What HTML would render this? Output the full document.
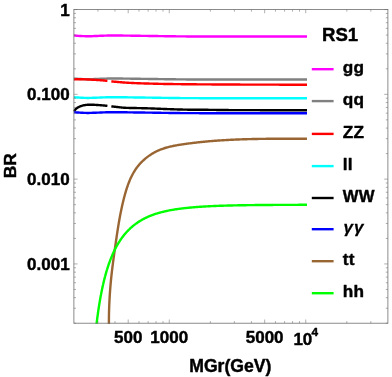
<!DOCTYPE html><html><head><meta charset="utf-8"><style>html,body{margin:0;padding:0;background:#fff}body{width:392px;height:377px;overflow:hidden}svg{display:block;will-change:transform}text{font-family:"Liberation Sans",sans-serif;font-weight:bold;fill:#000;stroke:#000;stroke-width:0.45px;stroke-linejoin:round}</style></head><body>
<svg width="392" height="377" viewBox="0 0 392 377">
<clipPath id="c"><rect x="73.30000000000001" y="8.950000000000001" width="315.2" height="315.04999999999995"/></clipPath>
<g clip-path="url(#c)" fill="none" stroke-linejoin="round" stroke-linecap="butt">
<path d="M73.90,78.55 L75.37,78.66 L76.83,78.76 L78.30,78.86 L79.76,78.94 L81.23,79.01 L82.70,79.09 L84.16,79.16 L85.63,79.21 L87.09,79.24 L88.56,79.25 L90.03,79.22 L91.49,79.18 L92.96,79.12 L94.42,79.06 L95.89,79.00 L97.36,78.95 L98.82,78.88 L100.29,78.81 L101.75,78.74 L103.22,78.68 L104.69,78.63 L106.15,78.58 L107.62,78.53 L109.08,78.51 L110.55,78.50 L112.02,78.50 L113.48,78.50 L114.95,78.50 L116.42,78.50 L117.88,78.50 L119.35,78.51 L120.81,78.53 L122.28,78.55 L123.75,78.58 L125.21,78.60 L126.68,78.62 L128.14,78.65 L129.61,78.67 L131.08,78.69 L132.54,78.71 L134.01,78.74 L135.47,78.76 L136.94,78.78 L138.41,78.80 L139.87,78.82 L141.34,78.84 L142.80,78.85 L144.27,78.87 L145.74,78.89 L147.20,78.91 L148.67,78.93 L150.13,78.95 L151.60,78.97 L153.07,79.00 L154.53,79.02 L156.00,79.04 L157.46,79.06 L158.93,79.09 L160.40,79.11 L161.86,79.13 L163.33,79.16 L164.79,79.18 L166.26,79.20 L167.73,79.22 L169.19,79.24 L170.66,79.26 L172.12,79.28 L173.59,79.29 L175.06,79.31 L176.52,79.33 L177.99,79.35 L179.45,79.37 L180.92,79.38 L182.39,79.40 L183.85,79.41 L185.32,79.42 L186.78,79.43 L188.25,79.44 L189.72,79.45 L191.18,79.45 L192.65,79.46 L194.12,79.46 L195.58,79.47 L197.05,79.47 L198.51,79.47 L199.98,79.48 L201.45,79.48 L202.91,79.48 L204.38,79.49 L205.84,79.49 L207.31,79.49 L208.78,79.49 L210.24,79.49 L211.71,79.50 L213.17,79.50 L214.64,79.50 L216.11,79.50 L217.57,79.50 L219.04,79.50 L220.50,79.50 L221.97,79.50 L223.44,79.50 L224.90,79.50 L226.37,79.50 L227.83,79.50 L229.30,79.50 L230.77,79.50 L232.23,79.50 L233.70,79.50 L235.16,79.50 L236.63,79.50 L238.10,79.50 L239.56,79.50 L241.03,79.50 L242.49,79.50 L243.96,79.50 L245.43,79.50 L246.89,79.50 L248.36,79.50 L249.82,79.50 L251.29,79.50 L252.76,79.50 L254.22,79.50 L255.69,79.50 L257.15,79.50 L258.62,79.50 L260.09,79.50 L261.55,79.50 L263.02,79.50 L264.48,79.50 L265.95,79.50 L267.42,79.50 L268.88,79.50 L270.35,79.50 L271.82,79.50 L273.28,79.50 L274.75,79.50 L276.21,79.50 L277.68,79.50 L279.15,79.50 L280.61,79.50 L282.08,79.50 L283.54,79.50 L285.01,79.50 L286.48,79.50 L287.94,79.50 L289.41,79.50 L290.87,79.50 L292.34,79.50 L293.81,79.50 L295.27,79.50 L296.74,79.50 L298.20,79.50 L299.67,79.50 L301.14,79.50 L302.60,79.50 L304.07,79.50 L305.53,79.50 L307.00,79.50" stroke="#808080" stroke-width="2.4"/>
<path d="M73.90,35.55 L75.37,35.66 L76.83,35.76 L78.30,35.86 L79.76,35.94 L81.23,36.01 L82.70,36.09 L84.16,36.16 L85.63,36.21 L87.09,36.24 L88.56,36.25 L90.03,36.22 L91.49,36.18 L92.96,36.12 L94.42,36.06 L95.89,36.00 L97.36,35.95 L98.82,35.88 L100.29,35.81 L101.75,35.74 L103.22,35.68 L104.69,35.63 L106.15,35.58 L107.62,35.53 L109.08,35.51 L110.55,35.50 L112.02,35.50 L113.48,35.50 L114.95,35.50 L116.42,35.50 L117.88,35.50 L119.35,35.51 L120.81,35.53 L122.28,35.55 L123.75,35.58 L125.21,35.60 L126.68,35.62 L128.14,35.65 L129.61,35.67 L131.08,35.69 L132.54,35.71 L134.01,35.74 L135.47,35.76 L136.94,35.78 L138.41,35.80 L139.87,35.82 L141.34,35.84 L142.80,35.85 L144.27,35.87 L145.74,35.89 L147.20,35.91 L148.67,35.93 L150.13,35.95 L151.60,35.97 L153.07,36.00 L154.53,36.02 L156.00,36.04 L157.46,36.06 L158.93,36.09 L160.40,36.11 L161.86,36.13 L163.33,36.16 L164.79,36.18 L166.26,36.20 L167.73,36.22 L169.19,36.24 L170.66,36.26 L172.12,36.28 L173.59,36.29 L175.06,36.31 L176.52,36.33 L177.99,36.35 L179.45,36.37 L180.92,36.38 L182.39,36.40 L183.85,36.41 L185.32,36.42 L186.78,36.43 L188.25,36.44 L189.72,36.45 L191.18,36.45 L192.65,36.46 L194.12,36.46 L195.58,36.47 L197.05,36.47 L198.51,36.47 L199.98,36.48 L201.45,36.48 L202.91,36.48 L204.38,36.49 L205.84,36.49 L207.31,36.49 L208.78,36.49 L210.24,36.49 L211.71,36.50 L213.17,36.50 L214.64,36.50 L216.11,36.50 L217.57,36.50 L219.04,36.50 L220.50,36.50 L221.97,36.50 L223.44,36.50 L224.90,36.50 L226.37,36.50 L227.83,36.50 L229.30,36.50 L230.77,36.50 L232.23,36.50 L233.70,36.50 L235.16,36.50 L236.63,36.50 L238.10,36.50 L239.56,36.50 L241.03,36.50 L242.49,36.50 L243.96,36.50 L245.43,36.50 L246.89,36.50 L248.36,36.50 L249.82,36.50 L251.29,36.50 L252.76,36.50 L254.22,36.50 L255.69,36.50 L257.15,36.50 L258.62,36.50 L260.09,36.50 L261.55,36.50 L263.02,36.50 L264.48,36.50 L265.95,36.50 L267.42,36.50 L268.88,36.50 L270.35,36.50 L271.82,36.50 L273.28,36.50 L274.75,36.50 L276.21,36.50 L277.68,36.50 L279.15,36.50 L280.61,36.50 L282.08,36.50 L283.54,36.50 L285.01,36.50 L286.48,36.50 L287.94,36.50 L289.41,36.50 L290.87,36.50 L292.34,36.50 L293.81,36.50 L295.27,36.50 L296.74,36.50 L298.20,36.50 L299.67,36.50 L301.14,36.50 L302.60,36.50 L304.07,36.50 L305.53,36.50 L307.00,36.50" stroke="#ff00ff" stroke-width="2.4"/>
<path d="M73.90,79.45 L74.68,79.40 L75.46,79.36 L76.24,79.32 L77.02,79.30 L77.80,79.28 L78.58,79.27 L79.36,79.26 L80.14,79.25 L80.92,79.25 L81.70,79.25 L82.48,79.27 L83.26,79.29 L84.03,79.32 L84.81,79.35 L85.59,79.38 L86.37,79.41 L87.15,79.45 L87.93,79.48 L88.71,79.52 L89.49,79.56 L90.27,79.60 L91.05,79.65 L91.83,79.69 L92.61,79.73 L93.39,79.78 L94.17,79.82 L94.95,79.87 L95.73,79.92 L96.51,79.96 L97.29,80.01 L98.07,80.06 L98.85,80.12 L99.63,80.17 L100.41,80.23 L101.19,80.29 L101.97,80.35 L102.75,80.41 L103.52,80.47 L104.30,80.54 L105.08,80.61 L105.86,80.69 L106.64,80.76 L107.42,80.85" stroke="#ff0000" stroke-width="2.4"/>
<path d="M111.32,81.37 L112.10,81.46 L112.88,81.54 L113.66,81.61 L114.44,81.68 L115.22,81.75 L116.00,81.82 L116.78,81.89 L117.56,81.96 L118.34,82.03 L119.12,82.10 L119.90,82.18 L120.68,82.25 L121.46,82.32 L122.24,82.39 L123.01,82.46 L123.79,82.52 L124.57,82.57 L125.35,82.62 L126.13,82.67 L126.91,82.71 L127.69,82.76 L128.47,82.80 L129.25,82.84 L130.03,82.88 L130.81,82.92 L131.59,82.96 L132.37,82.99 L133.15,83.03 L133.93,83.06 L134.71,83.10 L135.49,83.13 L136.27,83.16 L137.05,83.19 L137.83,83.22 L138.61,83.25 L139.39,83.28 L140.17,83.31 L140.95,83.33 L141.73,83.36 L142.50,83.39 L143.28,83.41 L144.06,83.43 L144.84,83.46 L145.62,83.48 L146.40,83.50 L147.18,83.52 L147.96,83.55 L148.74,83.57 L149.52,83.59 L150.30,83.61 L151.08,83.63 L151.86,83.65 L152.64,83.67 L153.42,83.69 L154.20,83.71 L154.98,83.73 L155.76,83.75 L156.54,83.77 L157.32,83.79 L158.10,83.81 L158.88,83.83 L159.66,83.85 L160.44,83.86 L161.22,83.88 L161.99,83.90 L162.77,83.91 L163.55,83.93 L164.33,83.94 L165.11,83.95 L165.89,83.96 L166.67,83.98 L167.45,83.99 L168.23,84.00 L169.01,84.01 L169.79,84.02 L170.57,84.04 L171.35,84.05 L172.13,84.06 L172.91,84.07 L173.69,84.08 L174.47,84.09 L175.25,84.10 L176.03,84.11 L176.81,84.12 L177.59,84.13 L178.37,84.14 L179.15,84.15 L179.93,84.16 L180.71,84.17 L181.48,84.18 L182.26,84.19 L183.04,84.20 L183.82,84.21 L184.60,84.21 L185.38,84.22 L186.16,84.23 L186.94,84.24 L187.72,84.25 L188.50,84.25 L189.28,84.26 L190.06,84.27 L190.84,84.28 L191.62,84.28 L192.40,84.29 L193.18,84.30 L193.96,84.30 L194.74,84.31 L195.52,84.32 L196.30,84.32 L197.08,84.33 L197.86,84.33 L198.64,84.34 L199.42,84.35 L200.19,84.35 L200.97,84.36 L201.75,84.36 L202.53,84.37 L203.31,84.37 L204.09,84.38 L204.87,84.38 L205.65,84.39 L206.43,84.39 L207.21,84.40 L207.99,84.40 L208.77,84.41 L209.55,84.41 L210.33,84.42 L211.11,84.42 L211.89,84.43 L212.67,84.43 L213.45,84.44 L214.23,84.44 L215.01,84.45 L215.79,84.45 L216.57,84.46 L217.35,84.46 L218.13,84.47 L218.91,84.47 L219.68,84.47 L220.46,84.48 L221.24,84.48 L222.02,84.49 L222.80,84.49 L223.58,84.50 L224.36,84.50 L225.14,84.50 L225.92,84.51 L226.70,84.51 L227.48,84.52 L228.26,84.52 L229.04,84.52 L229.82,84.53 L230.60,84.53 L231.38,84.54 L232.16,84.54 L232.94,84.54 L233.72,84.55 L234.50,84.55 L235.28,84.55 L236.06,84.56 L236.84,84.56 L237.62,84.56 L238.40,84.57 L239.17,84.57 L239.95,84.57 L240.73,84.58 L241.51,84.58 L242.29,84.58 L243.07,84.59 L243.85,84.59 L244.63,84.59 L245.41,84.60 L246.19,84.60 L246.97,84.60 L247.75,84.60 L248.53,84.61 L249.31,84.61 L250.09,84.61 L250.87,84.61 L251.65,84.62 L252.43,84.62 L253.21,84.62 L253.99,84.62 L254.77,84.63 L255.55,84.63 L256.33,84.63 L257.11,84.63 L257.89,84.63 L258.66,84.64 L259.44,84.64 L260.22,84.64 L261.00,84.64 L261.78,84.64 L262.56,84.65 L263.34,84.65 L264.12,84.65 L264.90,84.65 L265.68,84.65 L266.46,84.65 L267.24,84.65 L268.02,84.66 L268.80,84.66 L269.58,84.66 L270.36,84.66 L271.14,84.66 L271.92,84.66 L272.70,84.66 L273.48,84.67 L274.26,84.67 L275.04,84.67 L275.82,84.67 L276.60,84.67 L277.38,84.67 L278.15,84.67 L278.93,84.67 L279.71,84.68 L280.49,84.68 L281.27,84.68 L282.05,84.68 L282.83,84.68 L283.61,84.68 L284.39,84.68 L285.17,84.68 L285.95,84.68 L286.73,84.69 L287.51,84.69 L288.29,84.69 L289.07,84.69 L289.85,84.69 L290.63,84.69 L291.41,84.69 L292.19,84.69 L292.97,84.69 L293.75,84.69 L294.53,84.69 L295.31,84.69 L296.09,84.70 L296.87,84.70 L297.64,84.70 L298.42,84.70 L299.20,84.70 L299.98,84.70 L300.76,84.70 L301.54,84.70 L302.32,84.70 L303.10,84.70 L303.88,84.70 L304.66,84.70 L305.44,84.70 L306.22,84.70 L307.00,84.70" stroke="#ff0000" stroke-width="2.4"/>
<path d="M73.90,97.25 L75.37,97.36 L76.83,97.46 L78.30,97.56 L79.76,97.64 L81.23,97.71 L82.70,97.79 L84.16,97.86 L85.63,97.91 L87.09,97.94 L88.56,97.95 L90.03,97.92 L91.49,97.88 L92.96,97.82 L94.42,97.76 L95.89,97.70 L97.36,97.65 L98.82,97.58 L100.29,97.51 L101.75,97.44 L103.22,97.38 L104.69,97.33 L106.15,97.28 L107.62,97.23 L109.08,97.21 L110.55,97.20 L112.02,97.20 L113.48,97.20 L114.95,97.20 L116.42,97.20 L117.88,97.20 L119.35,97.21 L120.81,97.23 L122.28,97.25 L123.75,97.28 L125.21,97.30 L126.68,97.32 L128.14,97.35 L129.61,97.37 L131.08,97.39 L132.54,97.41 L134.01,97.44 L135.47,97.46 L136.94,97.48 L138.41,97.50 L139.87,97.52 L141.34,97.54 L142.80,97.55 L144.27,97.57 L145.74,97.59 L147.20,97.61 L148.67,97.63 L150.13,97.65 L151.60,97.67 L153.07,97.70 L154.53,97.72 L156.00,97.74 L157.46,97.76 L158.93,97.79 L160.40,97.81 L161.86,97.83 L163.33,97.86 L164.79,97.88 L166.26,97.90 L167.73,97.92 L169.19,97.94 L170.66,97.96 L172.12,97.98 L173.59,97.99 L175.06,98.01 L176.52,98.03 L177.99,98.05 L179.45,98.07 L180.92,98.08 L182.39,98.10 L183.85,98.11 L185.32,98.12 L186.78,98.13 L188.25,98.14 L189.72,98.15 L191.18,98.15 L192.65,98.16 L194.12,98.16 L195.58,98.17 L197.05,98.17 L198.51,98.17 L199.98,98.18 L201.45,98.18 L202.91,98.18 L204.38,98.19 L205.84,98.19 L207.31,98.19 L208.78,98.19 L210.24,98.19 L211.71,98.20 L213.17,98.20 L214.64,98.20 L216.11,98.20 L217.57,98.20 L219.04,98.20 L220.50,98.20 L221.97,98.20 L223.44,98.20 L224.90,98.20 L226.37,98.20 L227.83,98.20 L229.30,98.20 L230.77,98.20 L232.23,98.20 L233.70,98.20 L235.16,98.20 L236.63,98.20 L238.10,98.20 L239.56,98.20 L241.03,98.20 L242.49,98.20 L243.96,98.20 L245.43,98.20 L246.89,98.20 L248.36,98.20 L249.82,98.20 L251.29,98.20 L252.76,98.20 L254.22,98.20 L255.69,98.20 L257.15,98.20 L258.62,98.20 L260.09,98.20 L261.55,98.20 L263.02,98.20 L264.48,98.20 L265.95,98.20 L267.42,98.20 L268.88,98.20 L270.35,98.20 L271.82,98.20 L273.28,98.20 L274.75,98.20 L276.21,98.20 L277.68,98.20 L279.15,98.20 L280.61,98.20 L282.08,98.20 L283.54,98.20 L285.01,98.20 L286.48,98.20 L287.94,98.20 L289.41,98.20 L290.87,98.20 L292.34,98.20 L293.81,98.20 L295.27,98.20 L296.74,98.20 L298.20,98.20 L299.67,98.20 L301.14,98.20 L302.60,98.20 L304.07,98.20 L305.53,98.20 L307.00,98.20" stroke="#00ffff" stroke-width="2.4"/>
<path d="M73.90,111.60 L74.68,110.32 L75.46,109.40 L76.24,108.69 L77.02,108.06 L77.80,107.52 L78.58,107.09 L79.36,106.73 L80.14,106.39 L80.92,106.07 L81.70,105.79 L82.48,105.57 L83.26,105.37 L84.03,105.20 L84.81,105.07 L85.59,104.98 L86.37,104.90 L87.15,104.82 L87.93,104.76 L88.71,104.72 L89.49,104.70 L90.27,104.70 L91.05,104.72 L91.83,104.73 L92.61,104.76 L93.39,104.79 L94.17,104.82 L94.95,104.85 L95.73,104.88 L96.51,104.93 L97.29,104.99 L98.07,105.05 L98.85,105.11 L99.63,105.17 L100.41,105.23 L101.19,105.29 L101.97,105.35 L102.75,105.41 L103.52,105.48 L104.30,105.54 L105.08,105.61 L105.86,105.69 L106.64,105.76 L107.42,105.85" stroke="#000000" stroke-width="2.4"/>
<path d="M111.32,106.38 L112.10,106.47 L112.88,106.56 L113.66,106.65 L114.44,106.73 L115.22,106.81 L116.00,106.89 L116.78,106.97 L117.56,107.05 L118.34,107.14 L119.12,107.22 L119.90,107.32 L120.68,107.41 L121.46,107.50 L122.24,107.59 L123.01,107.66 L123.79,107.73 L124.57,107.78 L125.35,107.81 L126.13,107.84 L126.91,107.87 L127.69,107.89 L128.47,107.92 L129.25,107.94 L130.03,107.96 L130.81,107.97 L131.59,107.99 L132.37,108.00 L133.15,108.02 L133.93,108.03 L134.71,108.05 L135.49,108.06 L136.27,108.07 L137.05,108.09 L137.83,108.10 L138.61,108.12 L139.39,108.14 L140.17,108.15 L140.95,108.17 L141.73,108.19 L142.50,108.21 L143.28,108.23 L144.06,108.25 L144.84,108.26 L145.62,108.28 L146.40,108.30 L147.18,108.32 L147.96,108.34 L148.74,108.36 L149.52,108.39 L150.30,108.41 L151.08,108.43 L151.86,108.46 L152.64,108.49 L153.42,108.52 L154.20,108.55 L154.98,108.58 L155.76,108.62 L156.54,108.65 L157.32,108.69 L158.10,108.72 L158.88,108.75 L159.66,108.79 L160.44,108.82 L161.22,108.86 L161.99,108.89 L162.77,108.92 L163.55,108.95 L164.33,108.98 L165.11,109.00 L165.89,109.03 L166.67,109.06 L167.45,109.08 L168.23,109.11 L169.01,109.14 L169.79,109.17 L170.57,109.19 L171.35,109.22 L172.13,109.25 L172.91,109.28 L173.69,109.30 L174.47,109.33 L175.25,109.36 L176.03,109.38 L176.81,109.41 L177.59,109.43 L178.37,109.46 L179.15,109.48 L179.93,109.50 L180.71,109.53 L181.48,109.55 L182.26,109.57 L183.04,109.59 L183.82,109.60 L184.60,109.62 L185.38,109.64 L186.16,109.65 L186.94,109.66 L187.72,109.68 L188.50,109.69 L189.28,109.69 L190.06,109.70 L190.84,109.71 L191.62,109.71 L192.40,109.72 L193.18,109.72 L193.96,109.72 L194.74,109.73 L195.52,109.73 L196.30,109.73 L197.08,109.74 L197.86,109.74 L198.64,109.74 L199.42,109.75 L200.19,109.75 L200.97,109.76 L201.75,109.76 L202.53,109.77 L203.31,109.77 L204.09,109.78 L204.87,109.79 L205.65,109.80 L206.43,109.80 L207.21,109.81 L207.99,109.82 L208.77,109.83 L209.55,109.84 L210.33,109.85 L211.11,109.86 L211.89,109.87 L212.67,109.88 L213.45,109.89 L214.23,109.90 L215.01,109.91 L215.79,109.92 L216.57,109.93 L217.35,109.94 L218.13,109.95 L218.91,109.96 L219.68,109.97 L220.46,109.98 L221.24,109.99 L222.02,110.00 L222.80,110.01 L223.58,110.02 L224.36,110.03 L225.14,110.04 L225.92,110.05 L226.70,110.06 L227.48,110.06 L228.26,110.07 L229.04,110.08 L229.82,110.09 L230.60,110.10 L231.38,110.10 L232.16,110.11 L232.94,110.12 L233.72,110.12 L234.50,110.13 L235.28,110.13 L236.06,110.14 L236.84,110.14 L237.62,110.14 L238.40,110.15 L239.17,110.15 L239.95,110.15 L240.73,110.15 L241.51,110.15 L242.29,110.15 L243.07,110.15 L243.85,110.16 L244.63,110.16 L245.41,110.16 L246.19,110.16 L246.97,110.16 L247.75,110.16 L248.53,110.16 L249.31,110.16 L250.09,110.16 L250.87,110.16 L251.65,110.17 L252.43,110.17 L253.21,110.17 L253.99,110.17 L254.77,110.17 L255.55,110.17 L256.33,110.17 L257.11,110.17 L257.89,110.17 L258.66,110.17 L259.44,110.17 L260.22,110.18 L261.00,110.18 L261.78,110.18 L262.56,110.18 L263.34,110.18 L264.12,110.18 L264.90,110.18 L265.68,110.18 L266.46,110.18 L267.24,110.18 L268.02,110.18 L268.80,110.18 L269.58,110.18 L270.36,110.19 L271.14,110.19 L271.92,110.19 L272.70,110.19 L273.48,110.19 L274.26,110.19 L275.04,110.19 L275.82,110.19 L276.60,110.19 L277.38,110.19 L278.15,110.19 L278.93,110.19 L279.71,110.19 L280.49,110.19 L281.27,110.19 L282.05,110.19 L282.83,110.19 L283.61,110.19 L284.39,110.19 L285.17,110.19 L285.95,110.20 L286.73,110.20 L287.51,110.20 L288.29,110.20 L289.07,110.20 L289.85,110.20 L290.63,110.20 L291.41,110.20 L292.19,110.20 L292.97,110.20 L293.75,110.20 L294.53,110.20 L295.31,110.20 L296.09,110.20 L296.87,110.20 L297.64,110.20 L298.42,110.20 L299.20,110.20 L299.98,110.20 L300.76,110.20 L301.54,110.20 L302.32,110.20 L303.10,110.20 L303.88,110.20 L304.66,110.20 L305.44,110.20 L306.22,110.20 L307.00,110.20" stroke="#000000" stroke-width="2.4"/>
<path d="M73.90,112.25 L75.37,112.36 L76.83,112.46 L78.30,112.56 L79.76,112.64 L81.23,112.71 L82.70,112.79 L84.16,112.86 L85.63,112.91 L87.09,112.94 L88.56,112.95 L90.03,112.92 L91.49,112.88 L92.96,112.82 L94.42,112.76 L95.89,112.70 L97.36,112.65 L98.82,112.58 L100.29,112.51 L101.75,112.44 L103.22,112.38 L104.69,112.33 L106.15,112.28 L107.62,112.23 L109.08,112.21 L110.55,112.20 L112.02,112.20 L113.48,112.20 L114.95,112.20 L116.42,112.20 L117.88,112.20 L119.35,112.21 L120.81,112.23 L122.28,112.25 L123.75,112.28 L125.21,112.30 L126.68,112.32 L128.14,112.35 L129.61,112.37 L131.08,112.39 L132.54,112.41 L134.01,112.44 L135.47,112.46 L136.94,112.48 L138.41,112.50 L139.87,112.52 L141.34,112.54 L142.80,112.55 L144.27,112.57 L145.74,112.59 L147.20,112.61 L148.67,112.63 L150.13,112.65 L151.60,112.67 L153.07,112.70 L154.53,112.72 L156.00,112.74 L157.46,112.76 L158.93,112.79 L160.40,112.81 L161.86,112.83 L163.33,112.86 L164.79,112.88 L166.26,112.90 L167.73,112.92 L169.19,112.94 L170.66,112.96 L172.12,112.98 L173.59,112.99 L175.06,113.01 L176.52,113.03 L177.99,113.05 L179.45,113.07 L180.92,113.08 L182.39,113.10 L183.85,113.11 L185.32,113.12 L186.78,113.13 L188.25,113.14 L189.72,113.15 L191.18,113.15 L192.65,113.16 L194.12,113.16 L195.58,113.17 L197.05,113.17 L198.51,113.17 L199.98,113.18 L201.45,113.18 L202.91,113.18 L204.38,113.19 L205.84,113.19 L207.31,113.19 L208.78,113.19 L210.24,113.19 L211.71,113.20 L213.17,113.20 L214.64,113.20 L216.11,113.20 L217.57,113.20 L219.04,113.20 L220.50,113.20 L221.97,113.20 L223.44,113.20 L224.90,113.20 L226.37,113.20 L227.83,113.20 L229.30,113.20 L230.77,113.20 L232.23,113.20 L233.70,113.20 L235.16,113.20 L236.63,113.20 L238.10,113.20 L239.56,113.20 L241.03,113.20 L242.49,113.20 L243.96,113.20 L245.43,113.20 L246.89,113.20 L248.36,113.20 L249.82,113.20 L251.29,113.20 L252.76,113.20 L254.22,113.20 L255.69,113.20 L257.15,113.20 L258.62,113.20 L260.09,113.20 L261.55,113.20 L263.02,113.20 L264.48,113.20 L265.95,113.20 L267.42,113.20 L268.88,113.20 L270.35,113.20 L271.82,113.20 L273.28,113.20 L274.75,113.20 L276.21,113.20 L277.68,113.20 L279.15,113.20 L280.61,113.20 L282.08,113.20 L283.54,113.20 L285.01,113.20 L286.48,113.20 L287.94,113.20 L289.41,113.20 L290.87,113.20 L292.34,113.20 L293.81,113.20 L295.27,113.20 L296.74,113.20 L298.20,113.20 L299.67,113.20 L301.14,113.20 L302.60,113.20 L304.07,113.20 L305.53,113.20 L307.00,113.20" stroke="#0000ff" stroke-width="2.4"/>
<path d="M108.90,324.48 L108.90,323.64 L108.90,322.80 L108.90,321.95 L108.90,321.11 L108.90,320.27 L108.91,319.42 L108.92,318.58 L108.93,317.73 L108.94,316.89 L108.95,316.04 L108.96,315.20 L108.98,314.35 L109.00,313.51 L109.01,312.66 L109.03,311.81 L109.06,310.97 L109.08,310.12 L109.11,309.27 L109.13,308.43 L109.16,307.58 L109.19,306.73 L109.22,305.89 L109.26,305.04 L109.29,304.19 L109.33,303.34 L109.37,302.50 L109.41,301.65 L109.45,300.80 L109.50,299.95 L109.54,299.11 L109.59,298.26 L109.64,297.41 L109.69,296.56 L109.74,295.71 L109.79,294.87 L109.85,294.02 L109.90,293.17 L109.96,292.32 L110.02,291.47 L110.08,290.63 L110.15,289.78 L110.21,288.93 L110.28,288.08 L110.35,287.23 L110.42,286.39 L110.49,285.54 L110.56,284.69 L110.64,283.84 L110.71,282.99 L110.79,282.15 L110.87,281.30 L110.95,280.45 L111.03,279.60 L111.12,278.76 L111.20,277.91 L111.29,277.06 L111.38,276.22 L111.47,275.37 L111.56,274.52 L111.66,273.68 L111.75,272.83 L111.85,271.99 L111.95,271.14 L112.05,270.29 L112.15,269.45 L112.25,268.60 L112.35,267.76 L112.46,266.91 L112.56,266.07 L112.67,265.23 L112.78,264.38 L112.88,263.54 L112.99,262.69 L113.10,261.85 L113.22,261.01 L113.33,260.17 L113.44,259.32 L113.55,258.48 L113.67,257.64 L113.78,256.80 L113.90,255.96 L114.01,255.12 L114.13,254.27 L114.25,253.43 L114.36,252.59 L114.48,251.76 L114.60,250.92 L114.72,250.08 L114.84,249.24 L114.96,248.40 L115.08,247.56 L115.20,246.73 L115.32,245.89 L115.43,245.05 L115.55,244.22 L115.67,243.38 L115.79,242.55 L115.91,241.71 L116.03,240.88 L116.16,240.04 L116.28,239.21 L116.40,238.38 L116.52,237.54 L116.64,236.71 L116.76,235.88 L116.89,235.05 L117.01,234.21 L117.14,233.38 L117.26,232.55 L117.39,231.72 L117.52,230.89 L117.65,230.06 L117.78,229.23 L117.91,228.40 L118.04,227.57 L118.17,226.74 L118.31,225.91 L118.45,225.08 L118.58,224.25 L118.72,223.42 L118.86,222.59 L119.01,221.76 L119.15,220.93 L119.29,220.10 L119.44,219.27 L119.59,218.44 L119.74,217.61 L119.90,216.78 L120.05,215.95 L120.21,215.12 L120.37,214.29 L120.53,213.46 L120.69,212.63 L120.86,211.80 L121.03,210.97 L121.20,210.14 L121.37,209.31 L121.55,208.47 L121.73,207.64 L121.91,206.81 L122.10,205.98 L122.28,205.15 L122.47,204.32 L122.67,203.48 L122.86,202.65 L123.06,201.82 L123.26,200.98 L123.47,200.15 L123.68,199.31 L123.89,198.48 L124.10,197.64 L124.32,196.81 L124.55,195.97 L124.77,195.14 L125.00,194.30 L125.24,193.47 L125.47,192.63 L125.72,191.80 L125.97,190.97 L126.22,190.14 L126.48,189.31 L126.74,188.48 L127.01,187.66 L127.29,186.84 L127.57,186.02 L127.86,185.20 L128.15,184.39 L128.45,183.58 L128.76,182.77 L129.07,181.97 L129.40,181.17 L129.73,180.38 L130.07,179.59 L130.41,178.81 L130.76,178.03 L131.13,177.26 L131.50,176.49 L131.88,175.73 L132.27,174.97 L132.66,174.22 L133.07,173.48 L133.49,172.75 L133.91,172.02 L134.35,171.30 L134.80,170.58 L135.25,169.88 L135.72,169.18 L136.20,168.49 L136.69,167.81 L137.19,167.14 L137.70,166.47 L138.22,165.82 L138.76,165.17 L139.30,164.54 L139.85,163.91 L140.42,163.29 L140.99,162.68 L141.57,162.08 L142.16,161.49 L142.76,160.91 L143.37,160.34 L143.99,159.78 L144.62,159.23 L145.26,158.69 L145.90,158.15 L146.55,157.63 L147.21,157.12 L147.88,156.62 L148.56,156.12 L149.24,155.64 L149.93,155.17 L150.63,154.71 L151.34,154.26 L152.05,153.82 L152.77,153.39 L153.49,152.97 L154.22,152.56 L154.96,152.16 L155.70,151.78 L156.45,151.40 L157.21,151.03 L157.97,150.68 L158.74,150.34 L159.51,150.01 L160.28,149.69 L161.06,149.38 L161.85,149.08 L162.64,148.80 L163.43,148.53 L164.23,148.26 L165.03,148.01 L165.83,147.77 L166.64,147.53 L167.45,147.31 L168.27,147.09 L169.09,146.89 L169.91,146.69 L170.73,146.50 L171.56,146.31 L172.39,146.13 L173.22,145.96 L174.05,145.80 L174.88,145.64 L175.72,145.48 L176.56,145.33 L177.40,145.19 L178.24,145.05 L179.08,144.91 L179.92,144.77 L180.76,144.64 L181.60,144.51 L182.45,144.39 L183.29,144.26 L184.13,144.14 L184.98,144.02 L185.82,143.90 L186.66,143.78 L187.51,143.66 L188.35,143.55 L189.20,143.43 L190.04,143.32 L190.88,143.21 L191.73,143.11 L192.57,143.00 L193.42,142.90 L194.26,142.80 L195.11,142.69 L195.96,142.60 L196.80,142.50 L197.65,142.40 L198.49,142.31 L199.34,142.22 L200.18,142.13 L201.03,142.04 L201.88,141.95 L202.72,141.86 L203.57,141.78 L204.42,141.70 L205.26,141.61 L206.11,141.53 L206.96,141.46 L207.81,141.38 L208.65,141.30 L209.50,141.23 L210.35,141.16 L211.20,141.08 L212.04,141.01 L212.89,140.95 L213.74,140.88 L214.59,140.81 L215.43,140.75 L216.28,140.69 L217.13,140.62 L217.98,140.56 L218.83,140.50 L219.68,140.45 L220.52,140.39 L221.37,140.33 L222.22,140.28 L223.07,140.23 L223.92,140.18 L224.77,140.13 L225.62,140.08 L226.47,140.03 L227.31,139.98 L228.16,139.93 L229.01,139.89 L229.86,139.85 L230.71,139.80 L231.56,139.76 L232.41,139.72 L233.26,139.68 L234.11,139.64 L234.96,139.61 L235.81,139.57 L236.66,139.54 L237.51,139.50 L238.35,139.47 L239.20,139.44 L240.05,139.40 L240.90,139.37 L241.75,139.34 L242.60,139.32 L243.45,139.29 L244.30,139.26 L245.15,139.23 L246.00,139.21 L246.85,139.19 L247.70,139.16 L248.55,139.14 L249.40,139.12 L250.25,139.10 L251.10,139.08 L251.94,139.06 L252.79,139.04 L253.64,139.02 L254.49,139.00 L255.34,138.98 L256.19,138.97 L257.04,138.95 L257.89,138.94 L258.74,138.92 L259.59,138.91 L260.43,138.90 L261.28,138.88 L262.13,138.87 L262.98,138.86 L263.83,138.85 L264.68,138.84 L265.53,138.83 L266.37,138.82 L267.22,138.81 L268.07,138.80 L268.92,138.80 L269.77,138.79 L270.62,138.78 L271.46,138.78 L272.31,138.77 L273.16,138.77 L274.01,138.76 L274.85,138.76 L275.70,138.75 L276.55,138.75 L277.40,138.74 L278.24,138.74 L279.09,138.74 L279.94,138.73 L280.78,138.73 L281.63,138.73 L282.48,138.73 L283.32,138.73 L284.17,138.72 L285.01,138.72 L285.86,138.72 L286.71,138.72 L287.55,138.72 L288.40,138.72 L289.24,138.72 L290.09,138.72 L290.93,138.72 L291.78,138.72 L292.62,138.72 L293.47,138.72 L294.31,138.72 L295.16,138.72 L296.00,138.72 L296.84,138.72 L297.69,138.72 L298.53,138.72 L299.38,138.72 L300.22,138.72 L301.06,138.72 L301.90,138.72 L302.75,138.71 L303.59,138.71 L304.43,138.71 L305.27,138.71 L306.12,138.71 L306.96,138.71" stroke="#996633" stroke-width="2.4"/>
<path d="M96.56,323.83 L96.63,323.25 L96.70,322.67 L96.77,322.09 L96.84,321.53 L96.91,320.96 L96.98,320.40 L97.06,319.85 L97.13,319.30 L97.20,318.75 L97.27,318.21 L97.34,317.68 L97.41,317.15 L97.48,316.62 L97.55,316.09 L97.62,315.57 L97.69,315.06 L97.76,314.55 L97.83,314.04 L97.90,313.54 L97.97,313.04 L98.04,312.54 L98.11,312.05 L98.18,311.56 L98.25,311.08 L98.32,310.59 L98.39,310.12 L98.46,309.64 L98.53,309.17 L98.60,308.70 L98.67,308.24 L98.74,307.78 L98.81,307.32 L98.88,306.87 L98.95,306.42 L99.03,305.97 L99.10,305.53 L99.17,305.09 L99.24,304.65 L99.31,304.21 L99.38,303.78 L99.45,303.35 L99.52,302.93 L99.59,302.51 L99.66,302.09 L99.73,301.67 L99.80,301.25 L99.87,300.84 L99.94,300.43 L100.01,300.03 L100.08,299.62 L100.15,299.22 L100.22,298.83 L100.29,298.43 L100.36,298.04 L100.43,297.65 L100.50,297.26 L100.57,296.87 L100.64,296.49 L100.71,296.11 L100.78,295.73 L100.85,295.36 L100.92,294.99 L100.99,294.61 L101.07,294.25 L101.14,293.88 L101.21,293.52 L101.28,293.16 L101.35,292.80 L101.42,292.44 L101.49,292.08 L101.56,291.73 L101.63,291.38 L101.70,291.03 L101.77,290.69 L101.84,290.34 L101.91,290.00 L101.98,289.66 L102.05,289.32 L102.12,288.99 L102.19,288.65 L102.26,288.32 L102.33,287.99 L102.40,287.66 L102.47,287.34 L102.54,287.01 L102.61,286.69 L102.68,286.37 L102.75,286.05 L102.82,285.74 L102.89,285.42 L102.96,285.11 L103.04,284.80 L103.11,284.49 L103.18,284.18 L103.25,283.88 L103.32,283.57 L103.39,283.27 L103.46,282.97 L103.53,282.67 L103.60,282.37 L103.67,282.08 L103.74,281.78 L103.81,281.49 L103.88,281.20 L103.95,280.91 L104.02,280.62 L104.09,280.34 L104.16,280.05 L104.23,279.77 L104.30,279.49 L104.37,279.21 L104.44,278.93 L104.51,278.65 L104.58,278.38 L104.65,278.10 L104.72,277.83 L104.79,277.56 L104.86,277.29 L104.93,277.02 L105.01,276.76 L105.08,276.49 L105.15,276.23 L105.22,275.96 L105.29,275.70 L105.36,275.44 L105.43,275.18 L105.50,274.93 L105.57,274.67 L105.64,274.41 L105.71,274.16 L105.78,273.91 L105.85,273.66 L105.92,273.41 L105.99,273.16 L106.06,272.91 L106.13,272.67 L106.20,272.42 L106.27,272.18 L106.34,271.94 L106.41,271.69 L106.48,271.45 L106.55,271.22 L106.62,270.98 L106.69,270.74 L106.76,270.51 L106.83,270.27 L106.90,270.04 L106.97,269.81 L107.05,269.58 L107.12,269.35 L107.19,269.12 L107.26,268.89 L107.33,268.67 L107.40,268.44 L107.47,268.22 L107.54,267.99 L107.61,267.77 L107.68,267.55 L107.75,267.33 L107.82,267.11 L107.89,266.90 L107.96,266.68 L108.03,266.46 L108.10,266.25 L108.17,266.04 L108.24,265.82 L108.31,265.61 L108.38,265.40 L108.45,265.19 L108.52,264.98 L108.59,264.78 L108.66,264.57 L108.73,264.37 L108.80,264.16 L108.87,263.96 L108.94,263.76 L109.02,263.56 L109.09,263.35 L109.16,263.16 L109.23,262.96 L109.30,262.76 L109.37,262.56 L109.44,262.37 L109.51,262.17 L109.58,261.98 L109.65,261.79 L109.72,261.59 L109.79,261.40 L109.86,261.21 L109.93,261.02 L110.00,260.84 L110.00,260.84 L110.66,259.11 L111.32,257.46 L111.98,255.87 L112.64,254.34 L113.29,252.87 L113.95,251.45 L114.61,250.09 L115.27,248.77 L115.93,247.51 L116.59,246.28 L117.25,245.10 L117.91,243.96 L118.57,242.86 L119.22,241.80 L119.88,240.78 L120.54,239.79 L121.20,238.83 L121.86,237.91 L122.52,237.02 L123.18,236.16 L123.84,235.32 L124.49,234.51 L125.15,233.73 L125.81,232.96 L126.47,232.22 L127.13,231.51 L127.79,230.81 L128.45,230.13 L129.11,229.48 L129.77,228.84 L130.42,228.23 L131.08,227.63 L131.74,227.05 L132.40,226.48 L133.06,225.93 L133.72,225.40 L134.38,224.88 L135.04,224.37 L135.70,223.88 L136.35,223.40 L137.01,222.94 L137.67,222.49 L138.33,222.05 L138.99,221.62 L139.65,221.21 L140.31,220.80 L140.97,220.41 L141.63,220.02 L142.28,219.65 L142.94,219.29 L143.60,218.93 L144.26,218.59 L144.92,218.25 L145.58,217.93 L146.24,217.61 L146.90,217.30 L147.56,217.00 L148.21,216.71 L148.87,216.42 L149.53,216.14 L150.19,215.87 L150.85,215.61 L151.51,215.35 L152.17,215.10 L152.83,214.86 L153.48,214.62 L154.14,214.39 L154.80,214.16 L155.46,213.95 L156.12,213.73 L156.78,213.52 L157.44,213.32 L158.10,213.12 L158.76,212.93 L159.41,212.75 L160.07,212.56 L160.73,212.38 L161.39,212.21 L162.05,212.04 L162.71,211.88 L163.37,211.72 L164.03,211.56 L164.69,211.41 L165.34,211.26 L166.00,211.11 L166.66,210.97 L167.32,210.83 L167.98,210.69 L168.64,210.56 L169.30,210.43 L169.96,210.30 L170.62,210.18 L171.27,210.06 L171.93,209.94 L172.59,209.83 L173.25,209.72 L173.91,209.61 L174.57,209.50 L175.23,209.40 L175.89,209.30 L176.55,209.20 L177.20,209.10 L177.86,209.01 L178.52,208.92 L179.18,208.83 L179.84,208.74 L180.50,208.66 L181.16,208.57 L181.82,208.49 L182.47,208.41 L183.13,208.33 L183.79,208.26 L184.45,208.18 L185.11,208.11 L185.77,208.04 L186.43,207.97 L187.09,207.90 L187.75,207.83 L188.40,207.76 L189.06,207.70 L189.72,207.63 L190.38,207.57 L191.04,207.51 L191.70,207.45 L192.36,207.39 L193.02,207.33 L193.68,207.27 L194.33,207.22 L194.99,207.16 L195.65,207.11 L196.31,207.06 L196.97,207.01 L197.63,206.96 L198.29,206.91 L198.95,206.86 L199.61,206.82 L200.26,206.77 L200.92,206.73 L201.58,206.68 L202.24,206.64 L202.90,206.60 L203.56,206.56 L204.22,206.52 L204.88,206.48 L205.54,206.45 L206.19,206.41 L206.85,206.37 L207.51,206.34 L208.17,206.30 L208.83,206.27 L209.49,206.24 L210.15,206.20 L210.81,206.17 L211.46,206.14 L212.12,206.11 L212.78,206.08 L213.44,206.05 L214.10,206.02 L214.76,206.00 L215.42,205.97 L216.08,205.94 L216.74,205.92 L217.39,205.89 L218.05,205.87 L218.71,205.84 L219.37,205.82 L220.03,205.79 L220.69,205.77 L221.35,205.75 L222.01,205.73 L222.67,205.70 L223.32,205.68 L223.98,205.66 L224.64,205.64 L225.30,205.62 L225.96,205.60 L226.62,205.58 L227.28,205.57 L227.94,205.55 L228.60,205.53 L229.25,205.51 L229.91,205.50 L230.57,205.48 L231.23,205.46 L231.89,205.45 L232.55,205.43 L233.21,205.42 L233.87,205.40 L234.53,205.39 L235.18,205.37 L235.84,205.36 L236.50,205.35 L237.16,205.33 L237.82,205.32 L238.48,205.31 L239.14,205.30 L239.80,205.28 L240.45,205.27 L241.11,205.26 L241.77,205.25 L242.43,205.24 L243.09,205.23 L243.75,205.22 L244.41,205.21 L245.07,205.20 L245.73,205.19 L246.38,205.18 L247.04,205.17 L247.70,205.16 L248.36,205.15 L249.02,205.14 L249.68,205.13 L250.34,205.12 L251.00,205.12 L251.66,205.11 L252.31,205.10 L252.97,205.09 L253.63,205.08 L254.29,205.08 L254.95,205.07 L255.61,205.06 L256.27,205.06 L256.93,205.05 L257.59,205.04 L258.24,205.04 L258.90,205.03 L259.56,205.02 L260.22,205.02 L260.88,205.01 L261.54,205.01 L262.20,205.00 L262.86,204.99 L263.52,204.99 L264.17,204.98 L264.83,204.98 L265.49,204.97 L266.15,204.97 L266.81,204.96 L267.47,204.96 L268.13,204.95 L268.79,204.95 L269.44,204.95 L270.10,204.94 L270.76,204.94 L271.42,204.93 L272.08,204.93 L272.74,204.93 L273.40,204.92 L274.06,204.92 L274.72,204.91 L275.37,204.91 L276.03,204.91 L276.69,204.90 L277.35,204.90 L278.01,204.90 L278.67,204.89 L279.33,204.89 L279.99,204.89 L280.65,204.88 L281.30,204.88 L281.96,204.88 L282.62,204.88 L283.28,204.87 L283.94,204.87 L284.60,204.87 L285.26,204.86 L285.92,204.86 L286.58,204.86 L287.23,204.86 L287.89,204.86 L288.55,204.85 L289.21,204.85 L289.87,204.85 L290.53,204.85 L291.19,204.84 L291.85,204.84 L292.51,204.84 L293.16,204.84 L293.82,204.84 L294.48,204.83 L295.14,204.83 L295.80,204.83 L296.46,204.83 L297.12,204.83 L297.78,204.83 L298.43,204.82 L299.09,204.82 L299.75,204.82 L300.41,204.82 L301.07,204.82 L301.73,204.82 L302.39,204.81 L303.05,204.81 L303.71,204.81 L304.36,204.81 L305.02,204.81 L305.68,204.81 L306.34,204.81 L307.00,204.81" stroke="#00ff00" stroke-width="2.4"/>
</g>
<g stroke="#6e6e6e" stroke-width="0.8" fill="none">
<rect x="73.9" y="9.55" width="314.0" height="313.65"/>
<path d="M73.9,9.55h3.7M387.9,9.55h-3.7 M73.9,94.34h3.7M387.9,94.34h-3.7 M73.9,68.82h2.1M387.9,68.82h-2.1 M73.9,53.89h2.1M387.9,53.89h-2.1 M73.9,43.29h2.1M387.9,43.29h-2.1 M73.9,35.08h2.1M387.9,35.08h-2.1 M73.9,28.36h2.1M387.9,28.36h-2.1 M73.9,22.68h2.1M387.9,22.68h-2.1 M73.9,17.77h2.1M387.9,17.77h-2.1 M73.9,13.43h2.1M387.9,13.43h-2.1 M73.9,179.14h3.7M387.9,179.14h-3.7 M73.9,153.61h2.1M387.9,153.61h-2.1 M73.9,138.68h2.1M387.9,138.68h-2.1 M73.9,128.09h2.1M387.9,128.09h-2.1 M73.9,119.87h2.1M387.9,119.87h-2.1 M73.9,113.16h2.1M387.9,113.16h-2.1 M73.9,107.48h2.1M387.9,107.48h-2.1 M73.9,102.56h2.1M387.9,102.56h-2.1 M73.9,98.22h2.1M387.9,98.22h-2.1 M73.9,263.93h3.7M387.9,263.93h-3.7 M73.9,238.41h2.1M387.9,238.41h-2.1 M73.9,223.47h2.1M387.9,223.47h-2.1 M73.9,212.88h2.1M387.9,212.88h-2.1 M73.9,204.66h2.1M387.9,204.66h-2.1 M73.9,197.95h2.1M387.9,197.95h-2.1 M73.9,192.27h2.1M387.9,192.27h-2.1 M73.9,187.36h2.1M387.9,187.36h-2.1 M73.9,183.02h2.1M387.9,183.02h-2.1 M73.9,323.20h2.1M387.9,323.20h-2.1 M73.9,308.27h2.1M387.9,308.27h-2.1 M73.9,297.67h2.1M387.9,297.67h-2.1 M73.9,289.46h2.1M387.9,289.46h-2.1 M73.9,282.74h2.1M387.9,282.74h-2.1 M73.9,277.07h2.1M387.9,277.07h-2.1 M73.9,272.15h2.1M387.9,272.15h-2.1 M73.9,267.81h2.1M387.9,267.81h-2.1 M97.93,323.2v-2.1M97.93,9.55v2.1 M114.98,323.2v-2.1M114.98,9.55v2.1 M128.20,323.2v-3.7M128.20,9.55v3.7 M139.01,323.2v-2.1M139.01,9.55v2.1 M148.14,323.2v-2.1M148.14,9.55v2.1 M156.06,323.2v-2.1M156.06,9.55v2.1 M163.04,323.2v-2.1M163.04,9.55v2.1 M169.28,323.2v-3.7M169.28,9.55v3.7 M210.36,323.2v-2.1M210.36,9.55v2.1 M234.39,323.2v-2.1M234.39,9.55v2.1 M251.44,323.2v-2.1M251.44,9.55v2.1 M264.66,323.2v-3.7M264.66,9.55v3.7 M275.47,323.2v-2.1M275.47,9.55v2.1 M284.60,323.2v-2.1M284.60,9.55v2.1 M292.52,323.2v-2.1M292.52,9.55v2.1 M299.50,323.2v-2.1M299.50,9.55v2.1 M305.74,323.2v-3.7M305.74,9.55v3.7 M346.82,323.2v-2.1M346.82,9.55v2.1 M370.85,323.2v-2.1M370.85,9.55v2.1" stroke-width="0.55"/>
</g>
<text x="69.6" y="15.65" font-size="17" text-anchor="end">1</text>
<text x="69.6" y="100.44" font-size="17" text-anchor="end">0.100</text>
<text x="69.6" y="185.24" font-size="17" text-anchor="end">0.010</text>
<text x="69.6" y="270.03" font-size="17" text-anchor="end">0.001</text>
<text x="128.20" y="343.0" font-size="17" text-anchor="middle">500</text>
<text x="169.28" y="343.0" font-size="17" text-anchor="middle">1000</text>
<text x="264.66" y="343.0" font-size="17" text-anchor="middle">5000</text>
<text x="293.4" y="344.6" font-size="17">10<tspan font-size="11.8" dx="-0.7" dy="-8.6">4</tspan></text>
<text x="230.3" y="371.8" font-size="17.6" text-anchor="middle">MGr(GeV)</text>
<text transform="translate(16.0,165.7) rotate(-90)" font-size="17.4" text-anchor="middle">BR</text>
<text x="322.0" y="41.4" font-size="18.6">RS1</text>
<line x1="311.8" x2="333.6" y1="69.2" y2="69.2" stroke="#ff00ff" stroke-width="2.4"/>
<text x="342.7" letter-spacing="0.25" y="72.90" font-size="17.2">gg</text>
<line x1="311.8" x2="333.6" y1="101.1" y2="101.1" stroke="#808080" stroke-width="2.4"/>
<text x="342.7" letter-spacing="0.25" y="104.80" font-size="17.2">qq</text>
<line x1="311.8" x2="333.6" y1="133.9" y2="133.9" stroke="#ff0000" stroke-width="2.4"/>
<text x="342.7" letter-spacing="0.25" y="138.40" font-size="17.2">ZZ</text>
<line x1="311.8" x2="333.6" y1="166.1" y2="166.1" stroke="#00ffff" stroke-width="2.4"/>
<text x="342.7" letter-spacing="0.25" y="170.40" font-size="17.2">ll</text>
<line x1="311.8" x2="333.6" y1="198.0" y2="198.0" stroke="#000000" stroke-width="2.4"/>
<text x="342.8" letter-spacing="0.25" y="202.40" font-size="16.7">WW</text>
<line x1="311.8" x2="333.6" y1="229.2" y2="229.2" stroke="#0000ff" stroke-width="2.4"/>
<text x="343.6" y="232.80" font-size="17" letter-spacing="0.9" font-style="italic" style="stroke-width:0.28px">γγ</text>
<line x1="311.8" x2="333.6" y1="261.2" y2="261.2" stroke="#996633" stroke-width="2.4"/>
<text x="342.7" letter-spacing="0.25" y="265.10" font-size="17.2">tt</text>
<line x1="311.8" x2="333.6" y1="293.2" y2="293.2" stroke="#00ff00" stroke-width="2.4"/>
<text x="342.7" letter-spacing="0.25" y="297.10" font-size="17.2">hh</text>
</svg></body></html>
